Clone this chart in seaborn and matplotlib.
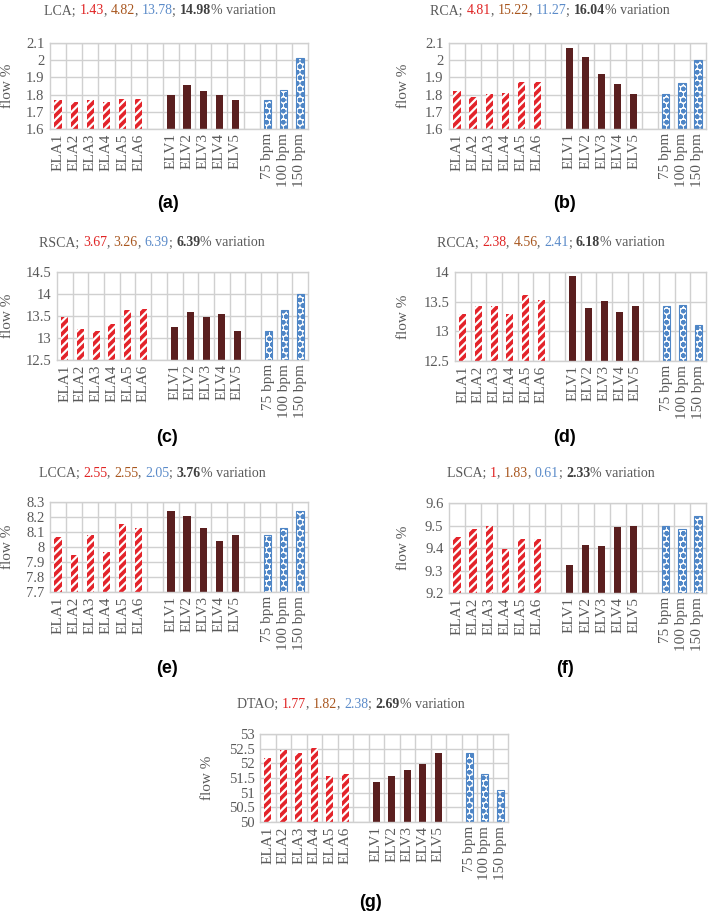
import numpy as np
import pandas as pd
import matplotlib
matplotlib.use("Agg")
import matplotlib.pyplot as plt
import seaborn as sns
from matplotlib.offsetbox import TextArea, HPacker, AnnotationBbox

sns.set_style("white")
plt.rcParams["font.family"] = ["Liberation Serif", "DejaVu Serif"]
plt.rcParams["hatch.linewidth"] = 1.6

# ---- data ----
ela_labels = ["ELA1", "ELA2", "ELA3", "ELA4", "ELA5", "ELA6"]
elv_labels = ["ELV1", "ELV2", "ELV3", "ELV4", "ELV5"]
bpm_labels = ["75 bpm", "100 bpm", "150 bpm"]
slots = ela_labels + [""] + elv_labels + [" "] + bpm_labels

lca = [1.77, 1.755, 1.77, 1.755, 1.777, 1.777, 1.798, 1.855, 1.82, 1.797, 1.77, 1.77, 1.825, 2.012]
rca = [1.82, 1.788, 1.803, 1.808, 1.872, 1.872, 2.072, 2.017, 1.922, 1.864, 1.801, 1.801, 1.868, 2.003]
rsca = [13.48, 13.2, 13.15, 13.32, 13.63, 13.65, 13.26, 13.59, 13.48, 13.55, 13.15, 13.15, 13.63, 14.01]
rcca = [13.3, 13.42, 13.42, 13.3, 13.61, 13.53, 13.94, 13.4, 13.51, 13.33, 13.42, 13.42, 13.44, 13.11]
lcca = [8.07, 7.946, 8.08, 7.97, 8.152, 8.125, 8.24, 8.21, 8.13, 8.04, 8.08, 8.08, 8.125, 8.24]
lsca = [9.45, 9.484, 9.499, 9.397, 9.44, 9.44, 9.324, 9.413, 9.409, 9.493, 9.499, 9.499, 9.484, 9.543]
dtao = [52.19, 52.455, 52.34, 52.52, 51.58, 51.64, 51.37, 51.58, 51.77, 51.98, 52.34, 52.34, 51.65, 51.08]

names = ["LCA", "RCA", "RSCA", "RCCA", "LCCA", "LSCA", "DTAO"]
stats_ela = ["1.43", "4.81", "3.67", "2.38", "2.55", "1", "1.77"]
stats_elv = ["4.82", "15.22", "3.26", "4.56", "2.55", "1.83", "1.82"]
stats_bpm = ["13.78", "11.27", "6.39", "2.41", "2.05", "0.61", "2.38"]
stats_total = ["14.98", "16.04", "6.39", "6.18", "3.76", "2.33", "2.69"]
panel_tags = ["(a)", "(b)", "(c)", "(d)", "(e)", "(f)", "(g)"]
y_ranges = [(1.6, 2.1, 0.1), (1.6, 2.1, 0.1), (12.5, 14.5, 0.5), (12.5, 14.0, 0.5),
            (7.7, 8.3, 0.1), (9.2, 9.6, 0.1), (50, 53, 0.5)]
series = [lca, rca, rsca, rcca, lcca, lsca, dtao]

# ---- layout (pixels, from top-left) ----
W, H = 709, 913
# axes: left, top, right, bottom; title center x,y; tag x,y; ylabel x
layout = [
    (50, 43, 308, 129, 160, 11, 168, 203, 10),
    (449, 43, 706, 129, 550, 11, 565, 203, 406),
    (57, 272, 308, 360, 152, 243, 167, 437, 10),
    (455, 272, 706, 361, 551, 243, 565, 437, 406),
    (50, 502, 308, 592, 152, 473, 167, 668, 10),
    (449, 503, 706, 593, 551, 473, 565, 668, 406),
    (260, 734, 508, 822, 351, 704, 371, 902, 210),
]

RED = "#e3242b"
DARK = "#5a1f1f"
BLUE = "#4f86c6"
GRAY = "#595959"
GRID = "#d0d0d0"
T_RED = "#e02424"
T_BROWN = "#a8561e"
T_BLUE = "#5b8bc9"

fig = plt.figure(figsize=(W / 100, H / 100), dpi=100)


def colored_title(x, y, name, a, b, c, tot):
    parts = [(name + "; ", GRAY, "normal"), (a, T_RED, "normal"), (", ", GRAY, "normal"),
             (b, T_BROWN, "normal"), (", ", GRAY, "normal"), (c, T_BLUE, "normal"),
             ("; ", GRAY, "normal"), (tot, "#404040", "bold"), ("% variation", GRAY, "normal")]
    boxes = [TextArea(t, textprops=dict(color=col, fontweight=fw, fontsize=10,
                                        family="Liberation Serif"))
             for t, col, fw in parts]
    pack = HPacker(children=boxes, align="baseline", pad=0, sep=0)
    ab = AnnotationBbox(pack, (x / W, 1 - y / H), xycoords="figure fraction",
                        frameon=False, box_alignment=(0.5, 0.5), pad=0)
    fig.add_artist(ab)


groups = ["ELA"] * 6 + ["ELV"] * 5 + ["bpm"] * 3
for i, vals in enumerate(series):
    l, t, r, b, tx, ty, gx, gy, yx = layout[i]
    ax = fig.add_axes([l / W, 1 - b / H, (r - l) / W, (b - t) / H])
    df = pd.DataFrame({"slot": ela_labels + elv_labels + bpm_labels,
                       "flow": vals, "group": groups})
    sns.barplot(data=df, x="slot", y="flow", hue="group", order=slots,
                hue_order=["ELA", "ELV", "bpm"],
                palette={"ELA": RED, "ELV": DARK, "bpm": "white"},
                width=0.45, dodge=False, legend=False, ax=ax)
    for cont, grp in zip(ax.containers, ["ELA", "ELV", "bpm"]):
        for p in cont.patches:
            if grp == "ELA":
                p.set_facecolor(RED)
                p.set_edgecolor("white")
                p.set_hatch("////")
                p.set_linewidth(0)
            elif grp == "ELV":
                p.set_facecolor(DARK)
                p.set_edgecolor(DARK)
                p.set_linewidth(0)
            else:
                p.set_facecolor("white")
                p.set_edgecolor(BLUE)
                p.set_hatch("ooo")
                p.set_linewidth(0.8)

    lo, hi, step = y_ranges[i]
    ax.set_ylim(lo, hi)
    yt = np.arange(lo, hi + step / 2, step)
    ax.set_yticks(yt)
    ax.set_yticklabels(["{:g}".format(round(v, 2)) for v in yt])
    ax.set_xlim(-0.5, len(slots) - 0.5)
    ax.set_xticks(range(len(slots)))
    ax.set_xticklabels(slots, rotation=90)
    # category separators
    ax.vlines(np.arange(0.5, len(slots) - 1, 1), lo, hi, colors=GRID, lw=1.0, zorder=0.6)
    ax.grid(True, which="major", axis="y", color=GRID, lw=1.0)
    ax.set_axisbelow(True)
    ax.tick_params(axis="x", length=0, labelsize=11, colors=GRAY, pad=3)
    ax.tick_params(axis="y", length=0, labelsize=10.5, colors=GRAY, pad=4)
    for s in ax.spines.values():
        s.set_color(GRID)
        s.set_linewidth(1.0)
    ax.set_xlabel("")
    ax.set_ylabel("flow %", fontsize=11, color=GRAY)
    ax.yaxis.set_label_coords((yx + 4 - l) / (r - l), 0.5)

    colored_title(tx, ty, names[i], stats_ela[i], stats_elv[i], stats_bpm[i], stats_total[i])
    fig.text(gx / W, 1 - gy / H, panel_tags[i], ha="center", va="center",
             fontsize=13, fontweight="bold", family="Liberation Sans", color="black")

fig.savefig("out.png", dpi=100)
